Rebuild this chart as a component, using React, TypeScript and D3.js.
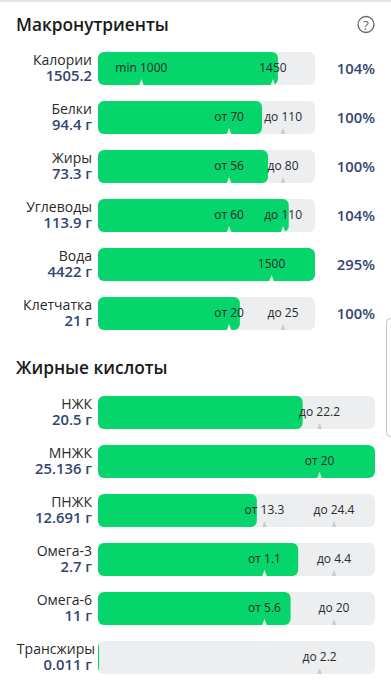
import React from "react";
import * as d3 from "d3";

const macroNames = ["Калории", "Белки", "Жиры", "Углеводы", "Вода", "Клетчатка"];
const macroValues = [1505.2, 94.4, 73.3, 113.9, 4422, 21];
const macroAmounts = ["1505.2", "94.4 г", "73.3 г", "113.9 г", "4422 г", "21 г"];
const macroLows: (number | null)[] = [1000, 70, 56, 60, 1500, 20];
const macroHighs: (number | null)[] = [1450, 110, 80, 110, null, 25];
const macroLowLabels = ["min 1000", "от 70", "от 56", "от 60", "1500", "от 20"];
const macroHighLabels = ["1450", "до 110", "до 80", "до 110", "", "до 25"];
const macroLimits = [1914, 132, 96, 132, 1900, 30];
const macroPercents = ["104%", "100%", "100%", "104%", "295%", "100%"];

const fatNames = ["НЖК", "МНЖК", "ПНЖК", "Омега-3", "Омега-6", "Трансжиры"];
const fatValues = [20.5, 25.136, 12.691, 2.7, 11, 0.011];
const fatAmounts = ["20.5 г", "25.136 г", "12.691 г", "2.7 г", "11 г", "0.011 г"];
const fatLows: (number | null)[] = [null, 20, 13.3, 1.1, 5.6, null];
const fatHighs: (number | null)[] = [22.2, null, 24.4, 4.4, 20, 2.2];
const fatLowLabels = ["", "от 20", "от 13.3", "от 1.1", "от 5.6", ""];
const fatHighLabels = ["до 22.2", "", "до 24.4", "до 4.4", "до 20", "до 2.2"];
const fatLimits = [27, 25, 29, 5.3, 24, 2.7];

const FONT = "'Open Sans','Noto Sans',sans-serif";
const GREEN = "#05d56b";
const TRACK = "#eceef0";
const NAVY = "#34456f";
const INK = "#2a2a2a";
const X0 = 98;

type RowProps = {
  name: string; amount: string; value: number; low: number | null; high: number | null;
  lowLabel: string; highLabel: string; limit: number; y: number; width: number; id: string;
  lowStop: number; highStop: number;
};

function Row({ name, amount, value, low, high, lowLabel, highLabel, limit, y, width, id, lowStop, highStop }: RowProps) {
  const h = 33;
  const domain: number[] = [0];
  const range: number[] = [0];
  if (low !== null) { domain.push(low); range.push(high === null ? 0.8 : lowStop); }
  if (high !== null) { domain.push(high); range.push(low === null ? 0.8 : highStop); }
  domain.push(limit);
  range.push(1);
  const x = d3.scaleLinear().domain(domain).range(range.map((r) => X0 + r * width)).clamp(true);
  const fillEnd = x(value);
  const marker = (v: number, key: string) => {
    const mx = x(v);
    const inFill = mx < fillEnd;
    const path = d3.path();
    path.moveTo(mx - 2.2, y + h);
    path.lineTo(mx - 0.8, y + h - 4);
    path.lineTo(mx, y + h - 6);
    path.lineTo(mx + 0.8, y + h - 4);
    path.lineTo(mx + 2.2, y + h);
    path.closePath();
    return <path key={key} d={path.toString()} fill={inFill ? "#e9f3ee" : "#c8ccd0"} />;
  };
  return (
    <g>
      <defs>
        <clipPath id={id}><rect x={X0} y={y} width={width} height={h} rx={6} /></clipPath>
      </defs>
      <text x={name === "Трансжиры" ? 95 : 92} y={y + 13} textAnchor="end" fontSize={14} fill={INK} fontFamily={FONT}>{name}</text>
      <text x={92} y={y + 29} textAnchor="end" fontSize={14.8} fontWeight={600} fill={NAVY} fontFamily={FONT}>{amount}</text>
      <rect x={X0} y={y} width={width} height={h} rx={6} fill={TRACK} />
      <g clipPath={`url(#${id})`}>
        <rect x={X0 - 8} y={y} width={fillEnd - X0 + 8} height={h} rx={6} fill={GREEN} />
      </g>
      {low !== null && marker(low, "l")}
      {high !== null && marker(high, "h")}
      {low !== null && <text x={x(low)} y={y + 20} textAnchor="middle" fontSize={12} fill={INK} fontFamily={FONT}>{lowLabel}</text>}
      {high !== null && <text x={x(high)} y={y + 20} textAnchor="middle" fontSize={12} fill={INK} fontFamily={FONT}>{highLabel}</text>}
    </g>
  );
}

export default function App() {
  const rowStep = 49;
  return (
    <svg width={391} height={680} style={{ position: "absolute", left: 0, top: 0, background: "#fff" }}>
      <rect x={0} y={0} width={391} height={2} fill="#e6e6e6" />
      <text x={16} y={31} fontSize={17.3} fontWeight={600} fill="#1a1a1a" fontFamily={FONT}>Макронутриенты</text>
      <circle cx={366} cy={24.5} r={8} fill="none" stroke="#666" strokeWidth={1.3} />
      <text x={366} y={29.5} textAnchor="middle" fontSize={13.5} fill="#666" fontFamily={FONT}>?</text>
      {macroNames.map((n, i) => (
        <g key={n}>
          <Row id={`m${i}`} name={n} amount={macroAmounts[i]} value={macroValues[i]} low={macroLows[i]} high={macroHighs[i]}
            lowLabel={macroLowLabels[i]} highLabel={macroHighLabels[i]} limit={macroLimits[i]}
            y={52 + i * rowStep} width={217} lowStop={i === 0 ? 0.2 : 0.604} highStop={i === 0 ? 0.806 : 0.853} />
          <text x={375} y={52 + i * rowStep + 22} textAnchor="end" fontSize={14.8} fontWeight={600} fill={NAVY} fontFamily={FONT}>{macroPercents[i]}</text>
        </g>
      ))}
      <text x={16} y={374} fontSize={17.3} fontWeight={600} fill="#1a1a1a" fontFamily={FONT}>Жирные кислоты</text>
      {fatNames.map((n, i) => (
        <Row key={n} id={`f${i}`} name={n} amount={fatAmounts[i]} value={fatValues[i]} low={fatLows[i]} high={fatHighs[i]}
          lowLabel={fatLowLabels[i]} highLabel={fatHighLabels[i]} limit={fatLimits[i]}
          y={396 + i * rowStep} width={277} lowStop={0.601} highStop={0.852} />
      ))}
      <rect x={386.5} y={318.5} width={10} height={118} rx={4} fill="#fff" stroke="#c4c4c4" />
    </svg>
  );
}
